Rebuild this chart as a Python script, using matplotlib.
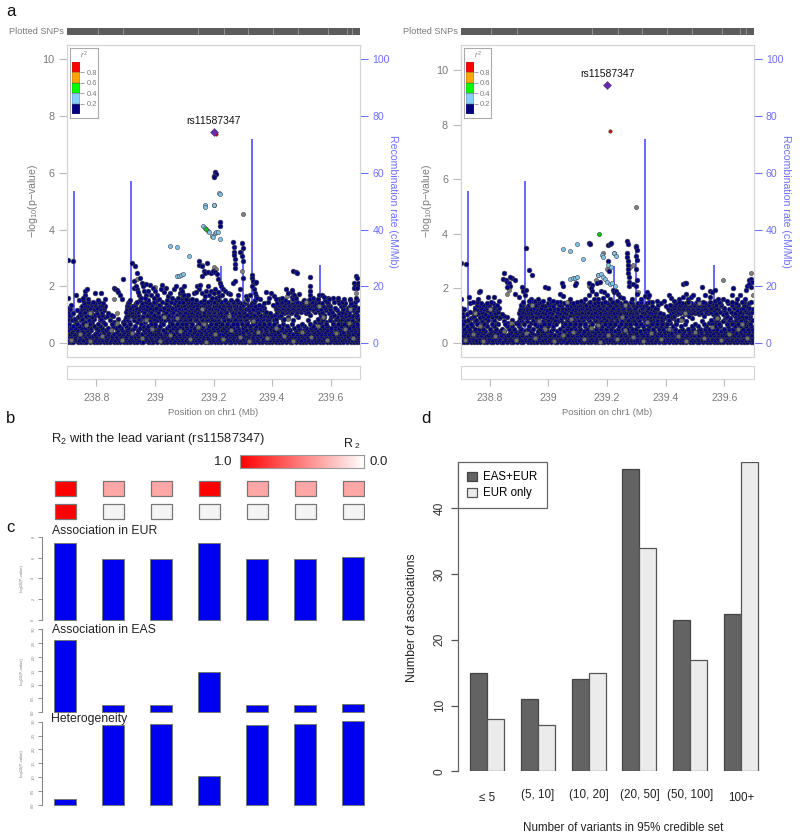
import numpy as np
import matplotlib
matplotlib.use("Agg")
import matplotlib.pyplot as plt
from matplotlib.colors import LinearSegmentedColormap

plt.rcParams['font.family'] = ['Liberation Sans', 'DejaVu Sans']
plt.rcParams['mathtext.fontset'] = 'custom'
plt.rcParams['mathtext.rm'] = 'Liberation Sans'
plt.rcParams['mathtext.it'] = 'Liberation Sans:italic'
plt.rcParams['mathtext.default'] = 'regular'

W, H = 800, 839
GREY = '#7a7a7a'
FRAME = '#d4d4d4'
BLUE = '#6f6fff'

# locus plots: positions are kb after 238.7 Mb
START_MB = 238.7
recomb_x = [1, 25, 45, 200, 220, 525, 600, 630, 800, 865, 720, 805]
recomb_h = [46, 53.5, 13, 10, 57, 27, 35, 72, 7, 27.5, 3, 4]
rug_gaps = [105, 192, 448, 536, 619, 704, 790, 892, 954, 974]

# dense bottom of the cloud, shared by both panels: y -> x positions
low_rows = {
    0.02: [2, 13, 22, 36, 47, 58, 66, 79, 91, 103, 112, 126, 137, 146, 159, 171, 180, 194, 206, 214, 229, 240, 252, 261, 275, 286, 294, 308, 321, 330, 343, 355, 364, 378, 389, 398, 412, 423, 436, 445, 459, 470, 482, 491, 505, 517, 526, 540, 552, 561, 574, 586, 597, 609, 620, 632, 643, 655, 664, 678, 690, 699, 713, 725, 734, 748, 760, 769, 783, 794, 806, 815, 829, 841, 850, 864, 875, 887, 896, 910, 921, 933, 942, 956, 968, 979, 991, 999],
    0.1: [6, 18, 30, 41, 53, 72, 84, 97, 108, 120, 132, 151, 164, 176, 188, 199, 211, 224, 235, 247, 268, 280, 291, 303, 315, 326, 338, 350, 369, 383, 394, 406, 418, 430, 441, 452, 464, 476, 487, 499, 511, 522, 534, 546, 557, 569, 581, 592, 604, 615, 627, 639, 650, 668, 682, 694, 706, 718, 729, 741, 753, 765, 777, 788, 800, 811, 823, 835, 846, 858, 870, 881, 892, 904, 916, 927, 939, 951, 962, 974, 985, 996],
    0.17: [11, 28, 43, 64, 81, 98, 117, 135, 152, 169, 186, 202, 219, 236, 254, 269, 287, 306, 323, 340, 357, 374, 391, 411, 429, 446, 463, 480, 498, 516, 532, 550, 567, 584, 601, 619, 636, 653, 669, 686, 704, 721, 738, 756, 773, 790, 808, 825, 842, 859, 876, 893, 911, 928, 945, 963, 980, 994],
    0.24: [3, 15, 27, 44, 61, 75, 88, 100, 116, 129, 143, 155, 168, 184, 203, 218, 232, 244, 258, 272, 283, 299, 312, 324, 336, 348, 360, 373, 386, 401, 415, 428, 439, 455, 467, 479, 494, 508, 520, 531, 544, 556, 571, 583, 595, 607, 618, 634, 647, 660, 675, 687, 702, 716, 727, 739, 751, 763, 779, 791, 803, 818, 832, 844, 856, 868, 884, 899, 912, 925, 937, 949, 960, 972, 988, 998],
    0.31: [9, 24, 39, 56, 70, 94, 110, 123, 139, 162, 178, 191, 209, 226, 238, 255, 277, 289, 305, 318, 333, 346, 366, 381, 396, 410, 426, 443, 457, 473, 489, 503, 518, 533, 549, 563, 577, 590, 602, 622, 637, 652, 671, 685, 697, 711, 723, 744, 757, 772, 786, 798, 813, 826, 839, 853, 866, 879, 894, 907, 923, 935, 947, 965, 977, 993],
    0.38: [17, 37, 59, 76, 101, 125, 144, 170, 193, 215, 243, 265, 284, 309, 335, 354, 376, 397, 417, 435, 458, 475, 493, 513, 538, 558, 578, 599, 617, 638, 659, 679, 698, 719, 740, 759, 780, 801, 820, 843, 861, 880, 901, 920, 941, 959, 982],
    0.45: [5, 20, 33, 50, 68, 82, 105, 118, 134, 149, 173, 187, 204, 221, 242, 263, 278, 296, 310, 329, 352, 371, 388, 404, 421, 438, 450, 468, 485, 501, 514, 529, 542, 559, 575, 588, 612, 629, 645, 661, 680, 695, 708, 731, 746, 762, 781, 795, 809, 821, 837, 852, 871, 889, 902, 919, 931, 954, 970, 984, 997],
    0.53: [12, 29, 48, 63, 77, 99, 121, 141, 166, 183, 208, 230, 249, 271, 292, 314, 341, 362, 377, 392, 409, 432, 447, 462, 481, 497, 512, 537, 553, 568, 585, 600, 625, 641, 658, 676, 692, 714, 733, 755, 775, 792, 817, 833, 848, 863, 877, 900, 915, 929, 944, 963, 981, 995],
    0.61: [1, 21, 40, 71, 92, 113, 157, 177, 201, 233, 260, 276, 300, 317, 349, 368, 387, 405, 424, 442, 465, 483, 504, 521, 541, 560, 580, 606, 623, 644, 666, 683, 701, 724, 752, 789, 810, 838, 869, 886, 913, 936, 953, 975, 990],
    0.68: [8, 35, 55, 80, 107, 128, 153, 196, 216, 253, 285, 301, 327, 358, 375, 391, 407, 425, 449, 472, 492, 510, 528, 547, 566, 579, 598, 616, 635, 654, 672, 689, 705, 736, 767, 802, 830, 860, 883, 908, 926, 946, 967, 989],
}
mid_rows = {
    0.75: [4, 31, 60, 87, 122, 161, 190, 213, 239, 267, 293, 320, 351, 379, 400, 420, 448, 471, 495, 519, 548, 570, 593, 613, 642, 667, 691, 715, 847, 867, 885, 909, 932, 955, 978],
    0.8: [16, 49, 74, 111, 148, 198, 227, 250, 282, 307, 334, 363, 395, 414, 437, 461, 484, 506, 535, 555, 582, 608, 631, 656, 681, 707, 737, 771, 824, 857, 896, 924, 950, 971, 992],
    0.85: [3, 26, 52, 93, 115, 175, 205, 246, 266, 298, 322, 344, 367, 384, 403, 419, 440, 460, 478, 496, 515, 550, 572, 591, 610, 630, 648, 670, 688, 712, 742, 856, 874, 918, 940, 958, 996],
    0.9: [37, 66, 85, 131, 203, 228, 256, 288, 313, 342, 370, 392, 411, 433, 454, 473, 490, 512, 532, 563, 586, 603, 622, 640, 662, 694, 726, 755, 790, 878, 902, 921, 945, 967, 985],
    0.95: [10, 42, 65, 109, 136, 158, 212, 237, 259, 281, 304, 331, 356, 380, 399, 416, 434, 453, 474, 507, 523, 545, 562, 583, 605, 624, 646, 668, 684, 700, 722, 868, 906, 952, 973],
    1.0: [8, 47, 76, 95, 120, 150, 208, 223, 243, 272, 296, 326, 349, 374, 397, 425, 445, 467, 488, 502, 527, 547, 566, 589, 615, 637, 659, 675, 709, 730, 780, 830, 877, 910, 936, 962, 989],
    1.05: [22, 55, 83, 104, 140, 216, 234, 262, 284, 310, 336, 360, 386, 409, 429, 451, 480, 498, 518, 540, 574, 596, 628, 651, 677, 692, 740, 765, 815, 862, 895, 930, 948, 983],
    1.1: [5, 46, 62, 119, 201, 222, 241, 264, 288, 311, 339, 361, 385, 402, 422, 444, 466, 486, 503, 524, 543, 564, 587, 603, 626, 653, 680, 718, 735, 750, 768, 785, 800, 822, 845, 872, 906, 938, 961, 986],
    1.15: [34, 73, 100, 127, 210, 232, 253, 277, 301, 328, 353, 377, 394, 415, 436, 458, 477, 494, 511, 534, 558, 578, 598, 620, 642, 665, 725, 743, 758, 775, 792, 810, 838, 855, 884, 922, 955, 976, 994],
    1.2: [9, 50, 68, 91, 112, 204, 226, 247, 270, 295, 318, 345, 368, 390, 406, 426, 447, 470, 491, 513, 536, 556, 577, 595, 612, 635, 660, 712, 731, 748, 764, 782, 798, 818, 840, 866, 898, 942, 970],
    1.25: [57, 79, 103, 125, 214, 236, 258, 283, 305, 332, 359, 382, 404, 423, 442, 463, 483, 505, 529, 552, 573, 592, 618, 647, 671, 720, 738, 754, 772, 788, 806, 828, 850, 880, 915, 958, 981, 998],
    1.3: [50, 69, 90, 113, 130, 206, 226, 251, 274, 319, 347, 372, 393, 413, 431, 456, 477, 500, 520, 539, 555, 576, 594, 621, 640, 665, 709, 728, 745, 761, 778, 793, 812, 836, 854, 873, 899, 934, 965, 983],
    1.35: [62, 84, 97, 118, 209, 231, 261, 290, 315, 343, 378, 401, 421, 443, 464, 485, 508, 533, 549, 571, 601, 627, 655, 703, 722, 741, 757, 774, 789, 803, 824, 843, 865, 890, 945, 975],
    1.4: [58, 78, 96, 124, 207, 234, 256, 279, 302, 337, 365, 389, 408, 427, 451, 469, 488, 509, 530, 551, 569, 589, 611, 633, 674, 716, 732, 749, 766, 782, 797, 815, 831, 847, 871, 890, 928, 948, 969],
    1.45: [71, 89, 110, 212, 240, 268, 297, 324, 354, 383, 412, 438, 459, 482, 501, 525, 544, 565, 585, 607, 638, 686, 735, 755, 770, 786, 805, 820, 835, 858, 887, 912, 940, 984],
    1.5: [55, 105, 215, 248, 275, 308, 341, 371, 398, 418, 441, 468, 492, 516, 538, 560, 581, 616, 643, 745, 776, 808, 826, 851, 882, 925, 966, 990],
}
low_grey = [(14, 0.12), (44, 0.33), (77, 0.08), (118, 0.25), (150, 0.45), (188, 0.1), (222, 0.35), (255, 0.18), (290, 0.5), (318, 0.06), (351, 0.28), (384, 0.42), (420, 0.15), (447, 0.55), (476, 0.05), (505, 0.3), (534, 0.14), (560, 0.46), (590, 0.22), (622, 0.08), (651, 0.38), (684, 0.16), (712, 0.52), (741, 0.26), (770, 0.07), (801, 0.4), (832, 0.2), (858, 0.6), (889, 0.11), (917, 0.34), (948, 0.5), (977, 0.17), (66, 0.62), (172, 0.72), (268, 0.8), (376, 0.88), (468, 0.66), (552, 0.95), (636, 0.76), (754, 0.85), (874, 0.92), (962, 0.7)]

left_navy = [(2, 2.93), (19, 2.9), (3, 1.6), (1, 1.25), (12, 1.35), (30, 1.7), (42, 1.5), (60, 1.7), (62, 1.85), (68, 1.9), (55, 1.6), (72, 1.55), (95, 1.75), (115, 1.75), (130, 1.55), (160, 1.95), (165, 1.9), (170, 1.88), (175, 1.8), (180, 1.7), (188, 1.55), (190, 2.25), (222, 2.82), (233, 2.72), (228, 2.2), (240, 2.45), (250, 2.3), (255, 2.1), (258, 2.0), (262, 1.85), (270, 1.7), (228, 1.95), (240, 1.9), (246, 1.7), (270, 2.08), (282, 2.05), (292, 1.95), (300, 1.85), (288, 1.7), (308, 1.7), (320, 1.9), (325, 2.05), (330, 1.8), (345, 1.65), (360, 1.6), (365, 1.9), (372, 2.0), (385, 1.75), (392, 1.55), (398, 2.02), (395, 1.65), (388, 1.92), (392, 1.77), (395, 1.45), (392, 1.85), (400, 1.7), (432, 1.75), (425, 1.55), (405, 1.55), (450, 2.9), (452, 2.75), (460, 2.7), (468, 2.55), (478, 2.82), (462, 2.35), (470, 2.45), (480, 2.5), (490, 2.48), (497, 2.55), (505, 2.5), (511, 2.42), (517, 2.25), (522, 2.1), (527, 2.0), (533, 1.9), (540, 1.85), (548, 1.78), (556, 1.72), (445, 2.0), (452, 1.9), (462, 1.75), (470, 1.65), (480, 2.0), (490, 1.85), (500, 1.75), (510, 1.6), (520, 1.65), (565, 2.1), (572, 2.2), (568, 3.55), (569, 3.4), (570, 3.2), (571, 3.1), (572, 2.95), (573, 2.8), (574, 2.65), (590, 3.2), (598, 3.05), (597, 3.53), (600, 3.35), (601, 2.9), (592, 1.9), (600, 2.3), (610, 1.65), (630, 2.4), (632, 2.3), (636, 2.2), (640, 2.1), (644, 2.15), (638, 1.9), (640, 1.75), (645, 1.65), (630, 2.02), (680, 1.8), (695, 1.75), (705, 1.65), (725, 1.55), (748, 1.92), (755, 1.75), (768, 1.62), (770, 1.55), (768, 1.8), (770, 2.53), (780, 2.5), (785, 2.45), (768, 1.88), (776, 1.7), (782, 1.6), (793, 1.72), (830, 2.32), (828, 2.0), (828, 1.85), (828, 1.7), (830, 1.55), (855, 1.55), (860, 1.68), (872, 1.7), (878, 1.62), (892, 1.6), (908, 1.6), (985, 2.35), (990, 2.28), (978, 2.1), (983, 2.02), (992, 2.1), (997, 2.0), (978, 1.95), (990, 1.95), (965, 1.55), (505, 6.02), (507, 5.95), (503, 5.87), (501, 5.85), (523, 4.25), (522, 4.13), (235, 2.0), (243, 1.8), (252, 1.6), (265, 1.6), (276, 1.85), (296, 1.6), (315, 1.55), (338, 1.95), (352, 1.75), (378, 1.6), (412, 1.7), (440, 1.8), (455, 2.05), (473, 1.85), (485, 1.7), (495, 1.6), (505, 1.9), (515, 1.8), (530, 1.7), (585, 1.7), (615, 1.55), (625, 1.7), (650, 1.6), (660, 1.55), (690, 1.6), (715, 1.55), (735, 1.6), (840, 1.6), (895, 1.55), (925, 1.6), (945, 1.55), (985, 1.6)]
left_grey = [(300, 1.98), (240, 2.25), (385, 1.7), (460, 1.2), (460, 2.75), (500, 2.68), (510, 2.6), (596, 2.53), (600, 4.55), (610, 1.5), (750, 1.65), (768, 1.5), (815, 1.43), (860, 1.3), (985, 1.75), (965, 1.2), (160, 1.55), (80, 1.05), (170, 1.05), (330, 0.9)]
left_blue = [(520, 5.3), (522, 5.26), (472, 4.85), (472, 4.78), (503, 4.87), (500, 4.85), (465, 4.12), (470, 4.07), (480, 3.96), (485, 3.93), (495, 3.78), (497, 3.72), (505, 3.88), (510, 3.9), (515, 3.92), (522, 3.65), (350, 3.43), (375, 3.38), (418, 3.07), (375, 2.35), (383, 2.37), (390, 2.39), (395, 2.42)]
left_lead = (239.2, 7.43)
left_red = [(510, 7.37)]
left_green = [(473, 4.02)]

right_navy = [(2, 2.93), (19, 2.88), (3, 1.6), (1, 1.3), (12, 1.25), (30, 1.7), (34, 1.45), (42, 1.5), (60, 1.6), (62, 1.85), (68, 1.9), (95, 1.7), (115, 1.7), (130, 1.55), (145, 2.35), (150, 2.58), (155, 2.3), (160, 2.25), (165, 2.2), (170, 2.1), (175, 2.38), (168, 2.4), (160, 2.05), (186, 2.3), (222, 3.47), (235, 2.68), (245, 2.48), (210, 2.05), (215, 1.9), (225, 1.95), (185, 1.8), (200, 1.7), (240, 1.6), (255, 1.55), (290, 2.05), (300, 2.02), (302, 1.6), (330, 1.52), (340, 1.8), (350, 1.72), (345, 2.2), (350, 2.1), (395, 2.2), (390, 2.12), (438, 3.65), (442, 3.62), (505, 3.6), (510, 3.62), (512, 3.65), (502, 3.0), (508, 2.65), (440, 2.2), (450, 2.12), (465, 2.2), (475, 2.25), (447, 2.0), (450, 1.9), (462, 1.8), (470, 1.6), (480, 1.9), (490, 1.85), (500, 1.75), (520, 1.95), (524, 1.85), (530, 1.9), (538, 1.78), (546, 1.7), (555, 1.65), (568, 3.75), (572, 3.62), (568, 3.3), (569, 3.15), (570, 3.0), (571, 2.85), (572, 2.7), (573, 2.55), (574, 2.4), (575, 2.25), (576, 2.1), (590, 2.15), (598, 2.1), (598, 3.55), (599, 3.5), (601, 3.4), (600, 3.2), (601, 3.05), (599, 2.7), (601, 2.3), (603, 1.8), (630, 1.72), (635, 1.85), (640, 1.7), (645, 1.75), (655, 1.5), (710, 1.75), (720, 1.65), (730, 1.55), (760, 2.15), (765, 2.2), (770, 2.18), (770, 1.8), (760, 1.7), (775, 1.6), (785, 1.7), (795, 1.75), (778, 1.5), (825, 2.05), (850, 1.9), (860, 1.85), (870, 1.95), (852, 1.7), (870, 1.55), (895, 1.6), (925, 1.75), (930, 2.0), (983, 2.3), (990, 2.35), (996, 2.25), (978, 2.1), (985, 2.15), (992, 2.05), (970, 1.6), (960, 1.5), (975, 1.95), (220, 1.75), (235, 1.55), (265, 1.6), (280, 1.55), (315, 1.55), (375, 1.6), (410, 1.55), (425, 1.6), (440, 1.75), (455, 1.6), (485, 1.65), (510, 1.6), (535, 1.55), (585, 1.6), (615, 1.6), (670, 1.55), (695, 1.55), (745, 1.6), (810, 1.6), (835, 1.75), (880, 1.6), (910, 1.55), (945, 1.6), (955, 1.75)]
right_grey = [(600, 4.98), (605, 1.85), (160, 1.8), (165, 1.95), (487, 3.3), (525, 3.3), (440, 2.1), (462, 2.3), (470, 2.48), (580, 2.8), (590, 2.85), (560, 1.4), (500, 2.7), (365, 1.5), (245, 1.4), (780, 1.45), (815, 1.45), (895, 2.3), (990, 2.58), (997, 1.75), (50, 1.1), (100, 1.25), (765, 1.1)]
right_blue = [(350, 3.43), (375, 3.38), (397, 3.62), (418, 3.07), (375, 2.35), (385, 2.37), (392, 2.39), (398, 2.42), (482, 3.22), (486, 3.15), (523, 3.3), (530, 3.2), (505, 2.85), (512, 2.78), (470, 2.5), (478, 2.52), (485, 2.42), (492, 2.35), (500, 2.25), (510, 2.15), (518, 2.2), (528, 2.1)]
right_lead = (239.2, 9.45)
right_red = [(510, 7.77)]
right_green = [(473, 4.0)]

# r2 legend
r2_colors = ['#000080', '#87CEFA', '#00FF00', '#FFA500', '#FF0000']
r2_ticks = [0.2, 0.4, 0.6, 0.8]

# panel b / c
lead_r2_eur = [1.0, 0.35, 0.35, 1.0, 0.35, 0.35, 0.35]
lead_r2_eas = [1.0, np.nan, np.nan, np.nan, np.nan, np.nan, np.nan]
assoc_eur = [7.42, 5.89, 5.9, 7.36, 5.9, 5.9, 6.05]
assoc_eas = [2.63, 0.27, 0.28, 1.47, 0.25, 0.28, 0.31]
heterogeneity = [0.22, 2.89, 2.9, 1.03, 2.88, 2.9, 3.01]

# panel d
size_labels = ['\u2264 5', '(5, 10]', '(10, 20]', '(20, 50]', '(50, 100]', '100+']
eas_eur = [15, 11, 14, 46, 23, 24]
eur_only = [8, 7, 15, 34, 17, 47]

fig = plt.figure(figsize=(W / 100, H / 100), dpi=100)


def px_axes(x0, y0, x1, y1):
    return fig.add_axes([x0 / W, 1 - y1 / H, (x1 - x0) / W, (y1 - y0) / H])


def px_text(x, y, s, **kw):
    kw.setdefault('va', 'center')
    return fig.text(x / W, 1 - y / H, s, **kw)


def pts(rows):
    xs, ys = [], []
    for y, row in rows.items():
        xs += row
        ys += [y] * len(row)
    return np.column_stack([xs, ys])


def locus(x0, y10, navy, grey, blue, lead, red, green):
    x1 = x0 + 293
    top, bottom, y_zero = 45, 357, 343
    unit = (y_zero - y10) / 10
    ax = px_axes(x0, top, x1, bottom)
    ax.set_xlim(238.7, 239.7)
    ax.set_ylim((y_zero - bottom) / unit, (y_zero - top) / unit)

    rec = ax.twinx()
    rec.set_ylim((y_zero - bottom) / 2.837, (y_zero - top) / 2.837)
    rec.vlines(START_MB + np.array(recomb_x) / 1000, 0, recomb_h, color='#5a5aff', lw=1.3)
    rec.set_yticks(range(0, 101, 20))
    rec.tick_params(axis='y', colors=BLUE, labelsize=7.6, length=6, width=0.8, pad=3)
    rec.set_ylabel('Recombination rate (cM/Mb)', color=BLUE, rotation=270, fontsize=7.6, labelpad=9)
    rec.yaxis.set_label_coords(1.128, 0.5)
    ax.set_zorder(rec.get_zorder() + 1)
    ax.patch.set_visible(False)

    def dots(p, color, s=12):
        arr = np.array(p)
        ax.scatter(START_MB + arr[:, 0] / 1000, arr[:, 1], s=s, c=color, edgecolors='#444444', linewidths=0.4)

    dots(pts(mid_rows), '#000080')
    dots(pts(low_rows), '#000080')
    dots(low_grey, '#707070', s=9)
    dots(grey, '#808080', s=9)
    dots(navy, '#000080')
    dots(blue, '#7FC4EC', s=9)
    dots(green, '#00C800', s=9)
    dots(red, '#E00000', s=6)
    ax.scatter([lead[0]], [lead[1]], marker='D', s=16, c='#6A2CA8', edgecolors='#4a2a80', linewidths=0.4, zorder=5)
    ax.text(lead[0], lead[1] + 0.39, 'rs11587347', ha='center', va='center', fontsize=7.5, color='#111111')

    ax.set_yticks(range(0, 11, 2))
    ax.set_xticks([])
    ax.tick_params(axis='y', colors=GREY, labelsize=7.8, length=6, width=0.8, color='#bbbbbb', pad=3)
    ax.set_ylabel(r'$-$log$_{10}$(p$-$value)', color=GREY, fontsize=7.6)
    ax.yaxis.set_label_coords(-0.092, 0.5)
    for a in (ax, rec):
        for sp in a.spines.values():
            sp.set_color(FRAME)
    rec.spines['right'].set_color('#dcdcf4')

    # rug of plotted snps
    rug = px_axes(x0, 28.3, x1, 35)
    rug.set_xlim(0, 1000)
    rug.set_ylim(0, 1)
    rug.axvspan(0, 1000, color='#5c5c5c', lw=0)
    rug.vlines(rug_gaps, 0, 1, color='#9a9a9a', lw=0.6)
    rug.axis('off')
    px_text(x0 - 3, 32, 'Plotted SNPs', ha='right', color=GREY, fontsize=6.6)

    # empty gene track carries the x axis
    gene = px_axes(x0, 365.7, x1, 379.3)
    gene.set_xlim(238.7, 239.7)
    gene.set_yticks([])
    gene.set_xticks([238.8, 239, 239.2, 239.4, 239.6])
    gene.set_xticklabels(['238.8', '239', '239.2', '239.4', '239.6'])
    gene.tick_params(axis='x', colors=GREY, labelsize=7.6, length=5, width=0.8, color='#bbbbbb', pad=5)
    for sp in gene.spines.values():
        sp.set_color(FRAME)
    px_text(x0 + 146.5, 413, 'Position on chr1 (Mb)', ha='center', color=GREY, fontsize=6.8)

    # r2 key
    key = px_axes(x0 + 3.4, 48.3, x0 + 31, 118.3)
    key.set_xticks([])
    key.set_yticks([])
    for sp in key.spines.values():
        sp.set_color('#aaaaaa')
    bar = px_axes(x0 + 5, 61.7, x0 + 13.3, 114.3)
    bar.set_xlim(0, 1)
    bar.set_ylim(0, 1)
    bar.bar([0.5] * 5, [0.2] * 5, bottom=[0, 0.2, 0.4, 0.6, 0.8], width=1, color=r2_colors, edgecolor='#555555', linewidth=0.3)
    bar.set_xticks([])
    bar.yaxis.tick_right()
    bar.set_yticks(r2_ticks)
    bar.set_yticklabels([str(t) for t in r2_ticks])
    bar.tick_params(axis='y', colors=GREY, labelsize=5.4, length=3, width=0.5, pad=1.5)
    for sp in bar.spines.values():
        sp.set_visible(False)
    px_text(x0 + 17, 55, r'$\mathit{r}^2$', ha='center', color=GREY, fontsize=5.5)


locus(67, 59.3, left_navy, left_grey, left_blue, left_lead, left_red, left_green)
locus(460.5, 70, right_navy, right_grey, right_blue, right_lead, right_red, right_green)

for x, y, s in [(6, 11, 'a'), (6, 418, 'b'), (6, 527, 'c'), (421, 418, 'd')]:
    px_text(x, y, s, fontsize=12, color='#111111')

# panel b
px_text(51, 439, 'R$_2$ with the lead variant (rs11587347)', fontsize=9.3, color='#222222')
px_text(344, 444, 'R', fontsize=9, color='#222222')
px_text(355, 446, '2', fontsize=6, color='#222222')
white_red = LinearSegmentedColormap.from_list('white_red', ['#FFFFFF', '#FF0000'])
white_red.set_bad('#F4F4F4')
grad = px_axes(240.3, 454.7, 364.3, 467.7)
grad.imshow(np.linspace(1, 0, 256).reshape(1, -1), aspect='auto', cmap=white_red, vmin=0, vmax=1)
grad.set_xticks([])
grad.set_yticks([])
for sp in grad.spines.values():
    sp.set_color('#999999')
px_text(232, 462, '1.0', ha='right', fontsize=9.5, color='#222222')
px_text(369, 462, '0.0', fontsize=9.5, color='#222222')

COL_LEFT, COL_RIGHT = 42.3, 365
col_xlim = ((COL_LEFT - 65.4) / 48, (COL_RIGHT - 65.4) / 48)
cols = np.arange(7)
cells = px_axes(COL_LEFT, 475, COL_RIGHT, 525)
cells.set_xlim(col_xlim)
cells.set_ylim(1.587, -0.587)
for row, vals in enumerate([lead_r2_eur, lead_r2_eas]):
    vals = np.ma.masked_invalid(vals)
    cells.bar(cols, 0.626, bottom=row - 0.313, width=0.452, color=white_red(vals), edgecolor='#777777', linewidth=0.9)
cells.axis('off')

# panel c
tracks = [
    (536.7, 620, 8, [0, 2, 4, 6, 8], assoc_eur, 'Association in EUR', 52.3, 531),
    (629.3, 712.3, 3, [0, 0.5, 1, 1.5, 2, 2.5, 3], assoc_eas, 'Association in EAS', 52.3, 630),
    (721.7, 805, 3, [0, 0.5, 1, 1.5, 2, 2.5, 3], heterogeneity, 'Heterogeneity', 51, 719),
]
for y0, y1, ymax, ticks, vals, title, tx, ty in tracks:
    ax = px_axes(COL_LEFT, y0, COL_RIGHT, y1)
    ax.patch.set_visible(False)
    ax.set_xlim(col_xlim)
    ax.set_ylim(0, ymax)
    ax.bar(cols, vals, width=0.46, color='#0000F0', edgecolor='#777777', linewidth=0.7, clip_on=False)
    ax.set_xticks([])
    ax.set_yticks(ticks)
    ax.set_yticklabels(['%.1f' % t if ymax == 3 else str(t) for t in ticks], rotation=90, va='center')
    ax.tick_params(axis='y', labelsize=2.8, colors=GREY, length=3, width=0.6, pad=2)
    for side in ('top', 'right', 'bottom'):
        ax.spines[side].set_visible(False)
    ax.spines['left'].set_color('#888888')
    px_text(21.7, (y0 + y1) / 2, '-log10(P-value)', rotation=90, ha='center', fontsize=3, color=GREY)
    px_text(tx, ty, title, fontsize=8.8, color='#222222')

# panel d
ax = px_axes(458.3, 462.3, 775.3, 771.3)
ax.patch.set_visible(False)
ax.set_xlim(0.33, 19)
ax.set_ylim(0, 47)
groups = np.arange(6) * 3
ax.bar(groups + 1.5, eas_eur, width=1, color='#636363', edgecolor='#444444', linewidth=0.9, label='EAS+EUR')
ax.bar(groups + 2.5, eur_only, width=1, color='#EBEBEB', edgecolor='#555555', linewidth=0.9, label='EUR only')
ax.set_xticks([])
ax.set_yticks([0, 10, 20, 30, 40])
ax.set_yticklabels(['0', '10', '20', '30', '40'], rotation=90, va='center')
ax.tick_params(axis='y', labelsize=8.6, colors='#333333', color='#555555', length=5, width=0.9, pad=4)
for side in ('top', 'right', 'bottom'):
    ax.spines[side].set_visible(False)
ax.spines['left'].set_color('#666666')
ax.spines['left'].set_linewidth(0.9)
for g, lab in zip(groups, size_labels):
    off = -4.0 if lab in ('\u2264 5', '100+') else -3.65
    ax.text(g + 2, off, lab, ha='center', va='center', fontsize=8.4, color='#222222', clip_on=False)
leg = ax.legend(loc='upper left', bbox_to_anchor=(0, 1), borderaxespad=0, fancybox=False, framealpha=1,
                edgecolor='#666666', fontsize=8.3, handlelength=0.8, handleheight=0.8, labelspacing=0.35,
                handletextpad=0.6, borderpad=0.78)
leg.get_frame().set_linewidth(0.9)
px_text(412, 618, 'Number of associations', rotation=90, ha='center', fontsize=8.8, color='#222222')
px_text(623, 827.7, 'Number of variants in 95% credible set', ha='center', fontsize=8.4, color='#222222')

fig.savefig('out.png', dpi=100)
